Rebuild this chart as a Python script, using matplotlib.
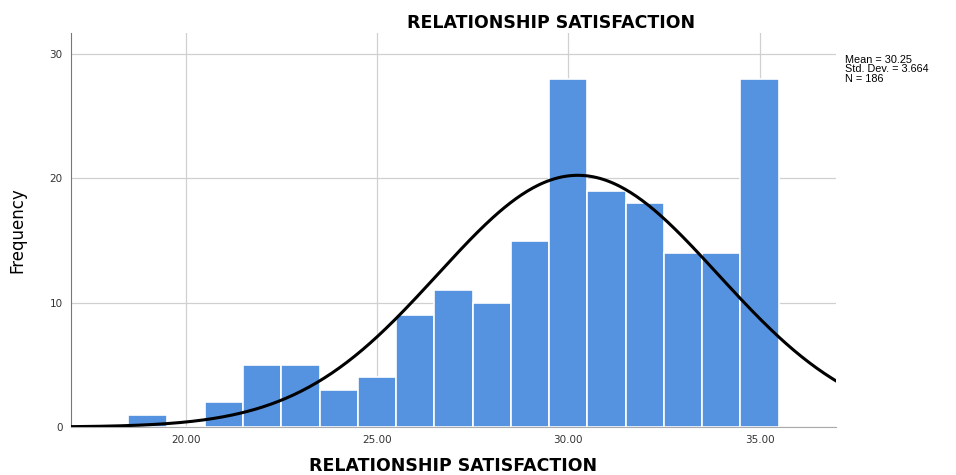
import numpy as np
import matplotlib.pyplot as plt

# histogram bins (centre value) and counts
scores = [19, 20, 21, 22, 23, 24, 25, 26, 27, 28, 29, 30, 31, 32, 33, 34, 35]
counts = [1, 0, 2, 5, 5, 3, 4, 9, 11, 10, 15, 28, 19, 18, 14, 14, 28]
mean_val = 30.25
std_val = 3.664
n_val = 186
xticks = [20, 25, 30, 35]
yticks = [0, 10, 20, 30]

fig = plt.figure(figsize=(9.56, 4.75), dpi=100)
ax = fig.add_axes([0.0743, 0.101, 0.8002, 0.8295])

ax.bar(scores, counts, width=1.0, color='#5592e0', edgecolor='white', linewidth=1.2, zorder=2)

# normal curve scaled to the counts
xs = np.linspace(17, 37, 400)
ys = n_val * 1.0 / (std_val * np.sqrt(2 * np.pi)) * np.exp(-0.5 * ((xs - mean_val) / std_val) ** 2)
ax.plot(xs, ys, color='black', linewidth=2.2, zorder=3)

ax.set_xlim(17, 37)
ax.set_ylim(0, 31.7)
ax.set_xticks(xticks)
ax.set_xticklabels([f'{t:.2f}' for t in xticks])
ax.set_yticks(yticks)
ax.tick_params(length=0, labelsize=7.5, colors='#333333', pad=6)
ax.grid(True, color='#d0d0d0', linewidth=0.9, zorder=0)
ax.set_axisbelow(True)

for s in ['top', 'right']:
    ax.spines[s].set_visible(False)
ax.spines['left'].set_color('#777777')
ax.spines['bottom'].set_color('#aaaaaa')

# title sits right of centre, x label centred under the axes
fig.text(551 / 956, 1 - 23 / 475, 'RELATIONSHIP SATISFACTION', fontsize=12.5,
         fontweight='bold', family='DejaVu Sans', ha='center', va='center')
fig.text(453 / 956, 1 - 466 / 475, 'RELATIONSHIP SATISFACTION', fontsize=12.5,
         fontweight='bold', family='DejaVu Sans', ha='center', va='center')
ax.set_ylabel('Frequency', fontsize=12, family='Liberation Sans Narrow', labelpad=17)

fig.text(0.884, 0.885, f'Mean = {mean_val}\nStd. Dev. = {std_val}\nN = {n_val}',
         fontsize=7.8, family='Liberation Sans', va='top', ha='left', linespacing=0.95)

fig.savefig('out.png', dpi=100)
